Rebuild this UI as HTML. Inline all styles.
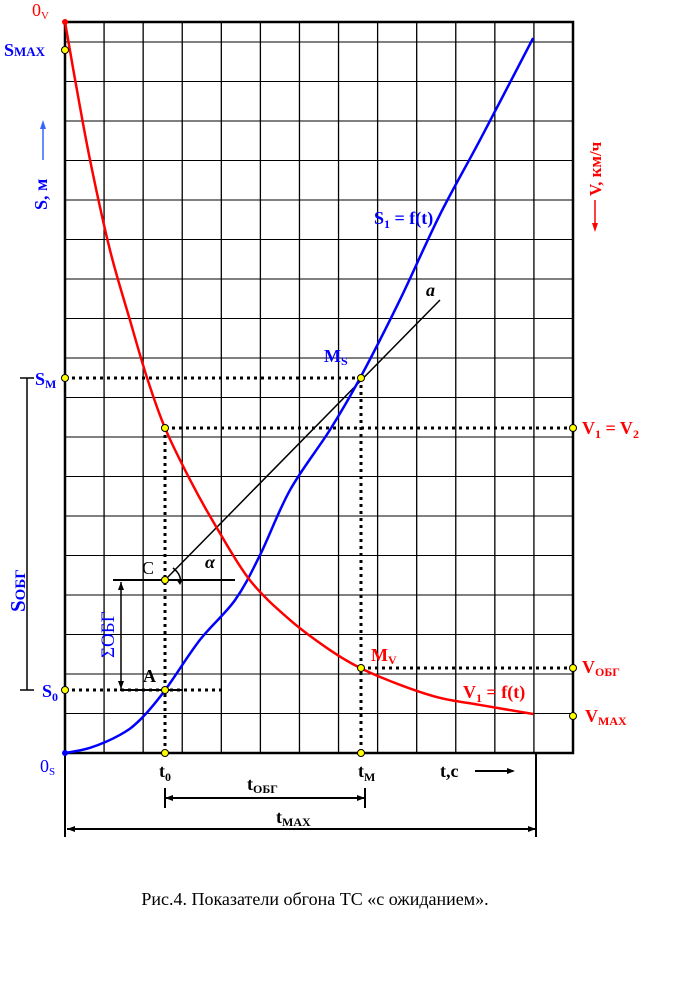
<!DOCTYPE html>
<html><head><meta charset="utf-8"><style>
html,body{margin:0;padding:0;background:#fff}
svg{display:block}
text{font-family:"Liberation Serif",serif}
</style></head><body>
<svg id="chart" width="698" height="985" viewBox="0 0 698 985" xmlns="http://www.w3.org/2000/svg">
<g id="grid"></g>
<g id="guides">
  <line x1="165" y1="580" x2="440" y2="300" stroke="#000" stroke-width="1.5"/>
  <line x1="113" y1="580" x2="235" y2="580" stroke="#000" stroke-width="2"/>
  <line x1="120" y1="690" x2="183" y2="690" stroke="#000" stroke-width="2"/>
  <g stroke="#000" stroke-width="3" stroke-dasharray="3,4" fill="none">
    <line x1="165" y1="428" x2="165" y2="753"/>
    <line x1="361" y1="378" x2="361" y2="753"/>
    <line x1="65" y1="378" x2="361" y2="378"/>
    <line x1="165" y1="428" x2="573" y2="428"/>
    <line x1="65" y1="690" x2="225" y2="690"/>
    <line x1="361" y1="668" x2="573" y2="668"/>
  </g>
  <g stroke="#000" stroke-width="1.5" fill="none">
    <line x1="121" y1="582" x2="121" y2="689"/>
    <line x1="27" y1="378" x2="27" y2="690"/>
    <line x1="20" y1="378" x2="34" y2="378"/>
    <line x1="20" y1="690" x2="34" y2="690"/>
    <line x1="65" y1="753" x2="65" y2="837" stroke-width="2"/>
    <line x1="536" y1="753" x2="536" y2="837" stroke-width="2"/>
    <line x1="67" y1="829" x2="536" y2="829" stroke-width="2"/>
    <line x1="165" y1="798" x2="365" y2="798" stroke-width="2"/>
    <line x1="165" y1="788" x2="165" y2="808" stroke-width="2"/>
    <line x1="365" y1="788" x2="365" y2="808" stroke-width="2"/>
    <line x1="475" y1="771" x2="513" y2="771" stroke-width="2"/>
    <path d="M173 568 Q182 575 180 583" />
  </g>
</g>
<path d="M121 582 l-3 8 h6z M121 689 l-3 -8 h6z M67 829 l8 -3 v6z M536 829 l-8 -3 v6z M165 798 l8 -3 v6z M365 798 l-8 -3 v6z M515 771 l-8 -3 v6z M180 585 l-4 -6 h7z" fill="#000"/>
<g id="curves"></g>
<g id="dots"></g>
<g font-weight="bold" font-size="18">
  <text x="32" y="16" fill="red" font-weight="normal">0<tspan font-size="11" dy="3">V</tspan></text>
  <text x="4" y="56" fill="blue">S<tspan font-size="13">MAX</tspan></text>
  <text x="47" y="210" fill="blue" transform="rotate(-90 47 210)">S, м</text>
  <line x1="43" y1="160" x2="43" y2="124" stroke="#3366ff" stroke-width="1.5"/>
  <path d="M43 120 l-3 9 h6z" fill="#3366ff"/>
  <text x="601" y="196" fill="red" transform="rotate(-90 601 196)" font-size="17">V, км/ч</text>
  <line x1="595" y1="200" x2="595" y2="228" stroke="red" stroke-width="1.5"/>
  <path d="M595 232 l-3 -9 h6z" fill="red"/>
  <text x="35" y="385" fill="blue">S<tspan font-size="12" dy="3">M</tspan></text>
  <text x="42" y="697" fill="blue">S<tspan font-size="12" dy="4">0</tspan></text>
  <text x="25" y="612" fill="blue" transform="rotate(-90 25 612)" font-size="21">S<tspan font-size="15">ОБГ</tspan></text>
  <text x="114" y="658" fill="blue" transform="rotate(-90 114 658)" font-weight="normal" font-size="19">ΣОБГ</text>
  <text x="40" y="772" fill="blue" font-weight="normal">0<tspan font-size="11" dy="3">S</tspan></text>
  <text x="142" y="574" fill="#000" font-weight="normal">C</text>
  <text x="143" y="682" fill="#000">A</text>
  <text x="205" y="568" fill="#000" font-style="italic">α</text>
  <text x="426" y="296" fill="#000" font-style="italic">a</text>
  <text x="324" y="362" fill="blue">M<tspan font-size="12" dy="3">S</tspan></text>
  <text x="374" y="224" fill="blue">S<tspan font-size="12" dy="4">1</tspan><tspan dy="-4"> = f(t)</tspan></text>
  <text x="582" y="434" fill="red">V<tspan font-size="12" dy="4">1</tspan><tspan dy="-4"> = V</tspan><tspan font-size="12" dy="4">2</tspan></text>
  <text x="371" y="661" fill="red">M<tspan font-size="12" dy="3">V</tspan></text>
  <text x="582" y="673" fill="red">V<tspan font-size="12" dy="3">ОБГ</tspan></text>
  <text x="463" y="698" fill="red">V<tspan font-size="12" dy="4">1</tspan><tspan dy="-4"> = f(t)</tspan></text>
  <text x="585" y="722" fill="red">V<tspan font-size="12" dy="3">MAX</tspan></text>
  <text x="159" y="777" fill="#000">t<tspan font-size="12" dy="4">0</tspan></text>
  <text x="358" y="777" fill="#000">t<tspan font-size="12" dy="4">M</tspan></text>
  <text x="440" y="777" fill="#000">t,c</text>
  <text x="247" y="790" fill="#000">t<tspan font-size="12" dy="3">ОБГ</tspan></text>
  <text x="276" y="823" fill="#000">t<tspan font-size="12" dy="3">MAX</tspan></text>
</g>
<text x="315" y="905" font-size="18" text-anchor="middle" fill="#000">Рис.4. Показатели обгона ТС «с ожиданием».</text>
</svg>
<script>
const tS = [0,0.64,1.41,1.92,2.56,3.45,4.35,4.99,5.76,6.78,7.55,8.57,9.59,10.62,11.98];
const sVals = [0,0.13,0.46,0.84,1.59,2.86,3.87,5.01,6.66,8.18,9.49,11.47,13.62,15.52,18.1];
const tV = [0,0.26,0.64,1.15,1.66,2.1,2.56,3.2,3.84,4.73,5.76,6.78,7.55,8.57,9.59,10.62,11.98];
const vVals = [0,1.47,3.49,5.77,7.54,9.01,10.28,11.59,12.73,14.13,15.14,15.9,16.35,16.78,17.11,17.29,17.52];
const NS='http://www.w3.org/2000/svg';
const x0=65,x1=573,yT=22,yB=753,colW=(x1-x0)/13,rowH=39.5;
const xScale=t=>x0+t*colW;
const sScale=s=>yB-s*rowH;
const vScale=v=>yT+v*rowH;
const grid=document.getElementById('grid');
function ln(a,b,c,d,w){const l=document.createElementNS(NS,'line');l.setAttribute('x1',a);l.setAttribute('y1',b);l.setAttribute('x2',c);l.setAttribute('y2',d);l.setAttribute('stroke','#000');l.setAttribute('stroke-width',w);return l;}
for(let k=1;k<13;k++){const l=ln(xScale(k),yT,xScale(k),yB,1.3);


grid.appendChild(l);}
for(let k=0;k<18;k++){const y=42+k*rowH;const l=ln(x0,y,x1,y,1);


grid.appendChild(l);}
const fr=document.createElementNS(NS,'rect');
fr.setAttribute('x',x0);fr.setAttribute('y',yT);fr.setAttribute('width',x1-x0);fr.setAttribute('height',yB-yT);
fr.setAttribute('fill','none');fr.setAttribute('stroke','#000');fr.setAttribute('stroke-width','2.5');


grid.appendChild(fr);
const curves=document.getElementById('curves');
function smoothPath(P){
  let d='M'+P[0][0]+','+P[0][1];
  for(let i=0;i<P.length-1;i++){
    const p0=P[i-1]||P[i],p1=P[i],p2=P[i+1],p3=P[i+2]||p2;
    const c1=[p1[0]+(p2[0]-p0[0])/6,p1[1]+(p2[1]-p0[1])/6];
    const c2=[p2[0]-(p3[0]-p1[0])/6,p2[1]-(p3[1]-p1[1])/6];
    d+=' C'+c1[0]+','+c1[1]+' '+c2[0]+','+c2[1]+' '+p2[0]+','+p2[1];
  }
  return d;
}
function curve(ts,vs,sc,col,name){const p=document.createElementNS(NS,'path');
p.setAttribute('d',smoothPath(ts.map((t,i)=>[xScale(t),sc(vs[i])])));
p.setAttribute('fill','none');p.setAttribute('stroke',col);p.setAttribute('stroke-width','2.5');p.setAttribute('stroke-linejoin','round');


curves.appendChild(p);}
curve(tS,sVals,sScale,'#0000ff','s-curve');
curve(tV,vVals,vScale,'#ff0000','v-curve');
const dots=document.getElementById('dots');
const pts=[[65,50],[65,378],[65,690],[165,428],[165,580],[165,690],[165,753],[361,378],[361,668],[361,753],[573,428],[573,668],[573,716]];
pts.forEach(p=>{const c=document.createElementNS(NS,'circle');c.setAttribute('cx',p[0]);c.setAttribute('cy',p[1]);c.setAttribute('r',3.5);c.setAttribute('fill','#ffff00');c.setAttribute('stroke','#000');c.setAttribute('stroke-width','1');


dots.appendChild(c);});
[[65,22,'red'],[65,753,'blue']].forEach(p=>{const c=document.createElementNS(NS,'circle');c.setAttribute('cx',p[0]);c.setAttribute('cy',p[1]);c.setAttribute('r',3);c.setAttribute('fill',p[2]);


dots.appendChild(c);});
</script>
</body></html>
